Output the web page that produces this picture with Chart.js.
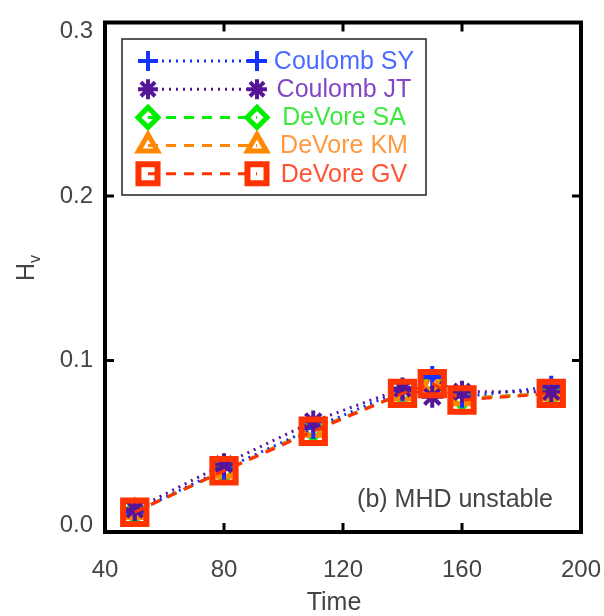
<!DOCTYPE html>
<html>
<head>
<meta charset="utf-8">
<script src="https://cdn.jsdelivr.net/npm/chart.js@4/dist/chart.umd.min.js"></script>
<style>
  body { margin: 0; background: #fff; }
  #wrap { width: 604px; height: 616px; }
</style>
</head>
<body>
<div id="wrap"><canvas id="hvChart" width="604" height="616"></canvas></div>
<script>
// values
const times = [50, 80, 110, 140, 150, 160, 190];
const coulombSY = [0.008, 0.034, 0.059, 0.082, 0.090, 0.078, 0.084];
const coulombJT = [0.0095, 0.037, 0.063, 0.083, 0.078, 0.081, 0.081];
const devoreSA = [0.008, 0.033, 0.058, 0.080, 0.086, 0.077, 0.080];
const devoreKM = [0.008, 0.033, 0.058, 0.080, 0.086, 0.077, 0.080];
const devoreGV = [0.0078, 0.033, 0.057, 0.080, 0.086, 0.076, 0.080];
const xTicks = [40, 80, 120, 160, 200];
const yTicks = [0.0, 0.1, 0.2, 0.3];

const FONT = "'Liberation Sans', Arial, Helvetica, sans-serif";

const series = [
  { label: 'Coulomb SY', data: coulombSY, color: '#1433ff', text: '#4d6bff', style: 'cross', r: 11, lr: 10, bw: 4, dash: [2, 5], order: 2 },
  { label: 'Coulomb JT', data: coulombJT, color: '#561599', text: '#8447c4', style: 'star', r: 11, lr: 10, bw: 4, dash: [2, 5], order: 1 },
  { label: 'DeVore SA', data: devoreSA, color: '#00ee00', text: '#3ee83e', style: 'rectRot', r: 10, lr: 10, bw: 5, dash: [10, 8], order: 4 },
  { label: 'DeVore KM', data: devoreKM, color: '#ff8800', text: '#ff9a40', style: 'triangle', r: 11, lr: 11, bw: 5, dash: [10, 8], order: 3 },
  { label: 'DeVore GV', data: devoreGV, color: '#ff3300', text: '#ff5333', style: 'rect', r: 16.5, lr: 13.5, bw: 6, dash: [10, 8], order: 0 }
];

const datasets = series.map(s => ({
  label: s.label,
  data: times.map((t, i) => ({ x: t, y: s.data[i] })),
  borderColor: s.color,
  backgroundColor: 'rgba(0,0,0,0)',
  borderWidth: 3,
  borderDash: s.dash,
  pointStyle: s.style,
  pointRadius: s.r,
  pointBorderWidth: s.bw,
  pointBorderColor: s.color,
  pointBackgroundColor: 'rgba(0,0,0,0)',
  order: s.order,
  tension: 0
}));

// box, inward ticks, legend, titles
const decor = {
  id: 'decor',
  afterDraw(chart) {
    const ctx = chart.ctx;
    const a = chart.chartArea;
    const xs = chart.scales.x, ys = chart.scales.y;
    ctx.save();
    ctx.strokeStyle = '#000';
    ctx.lineWidth = 4;
    ctx.setLineDash([]);
    ctx.strokeRect(a.left, a.top, a.right - a.left, a.bottom - a.top);
    ctx.lineWidth = 3;
    ctx.beginPath();
    xTicks.slice(1, -1).forEach(v => {
      const px = xs.getPixelForValue(v);
      ctx.moveTo(px, a.bottom); ctx.lineTo(px, a.bottom - 9);
      ctx.moveTo(px, a.top); ctx.lineTo(px, a.top + 9);
    });
    yTicks.slice(1, -1).forEach(v => {
      const py = ys.getPixelForValue(v);
      ctx.moveTo(a.left, py); ctx.lineTo(a.left + 9, py);
      ctx.moveTo(a.right, py); ctx.lineTo(a.right - 9, py);
    });
    ctx.stroke();

    // legend
    const bx = 122, by = 39, bw = 304, bh = 156;
    ctx.lineWidth = 1.5;
    ctx.strokeStyle = '#222';
    ctx.strokeRect(bx, by, bw, bh);
    series.forEach((s, i) => {
      const y = 61 + i * 28.2;
      ctx.strokeStyle = s.color;
      ctx.lineWidth = 3;
      ctx.setLineDash(s.dash);
      ctx.beginPath();
      ctx.moveTo(148, y); ctx.lineTo(257, y);
      ctx.stroke();
      ctx.setLineDash([]);
      ctx.lineWidth = s.bw;
      ctx.fillStyle = 'rgba(0,0,0,0)';
      const opts = { pointStyle: s.style, radius: s.lr, rotation: 0, borderWidth: s.bw };
      Chart.helpers.drawPoint(ctx, opts, 148, y);
      Chart.helpers.drawPoint(ctx, opts, 257, y);
      ctx.fillStyle = s.text;
      ctx.font = '25px ' + FONT;
      ctx.textAlign = 'center';
      ctx.textBaseline = 'middle';
      ctx.fillText(s.label, 344, y + 1);
    });

    // annotation and axis titles
    ctx.fillStyle = '#444';
    ctx.font = '25px ' + FONT;
    ctx.textAlign = 'center';
    ctx.textBaseline = 'middle';
    ctx.fillText('(b) MHD unstable', 455, 500);
    ctx.fillText('Time', 334, 603);
    ctx.translate(27, 272);
    ctx.rotate(-Math.PI / 2);
    ctx.fillText('H', 0, 0);
    ctx.font = '16px ' + FONT;
    ctx.fillText('v', 13, 9);
    ctx.restore();
  }
};

new Chart(document.getElementById('hvChart').getContext('2d'), {
  type: 'line',
  data: { datasets },
  options: {
    responsive: false,
    animation: false,
    layout: { padding: { top: 12, right: 23, left: 0, bottom: 0 } },
    plugins: { legend: { display: false }, tooltip: { enabled: false } },
    scales: {
      x: {
        type: 'linear',
        min: 40,
        max: 200,
        afterBuildTicks: scale => { scale.ticks = xTicks.map(v => ({ value: v })); },
        afterFit: scale => { scale.height = 84; scale.paddingLeft = 0; scale.paddingRight = 0; },
        grid: { display: false, drawTicks: false },
        border: { display: false },
        ticks: { padding: 24, color: '#444', font: { family: FONT, size: 24 } }
      },
      y: {
        type: 'linear',
        min: -0.0042,
        max: 0.3054,
        afterBuildTicks: scale => { scale.ticks = yTicks.map(v => ({ value: v })); },
        afterFit: scale => { scale.width = 105; scale.paddingTop = 0; scale.paddingBottom = 0; },
        grid: { display: false, drawTicks: false },
        border: { display: false },
        ticks: { padding: 12, color: '#444', font: { family: FONT, size: 24 }, callback: v => v.toFixed(1) }
      }
    }
  },
  plugins: [decor]
});
</script>
</body>
</html>
